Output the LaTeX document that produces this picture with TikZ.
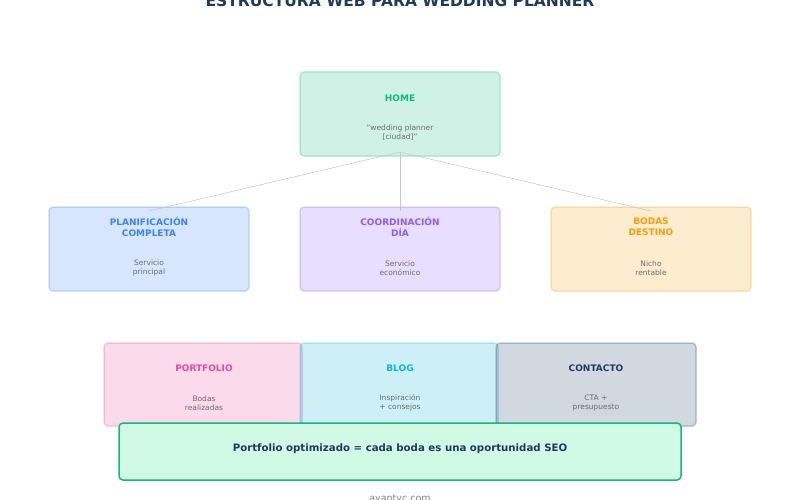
\documentclass[tikz,border=0pt]{standalone}
\usepackage{fontspec}
\setmainfont{DejaVu Sans}
\begin{document}
\begin{tikzpicture}[x=1pt,y=-1pt,
  box/.style={draw=#1,draw opacity=0.25,fill=#1,fill opacity=0.2,line width=1.5pt,rounded corners=4pt},
  ttl/.style={text=#1,font=\fontsize{9}{11}\selectfont\bfseries,align=center},
  sub/.style={text=gray!85!black,font=\fontsize{7.5}{9}\selectfont,align=center},
  link/.style={draw=gray!45,line width=0.5pt}]
\definecolor{cgreen}{HTML}{10B981}
\definecolor{cblue}{HTML}{3B82F6}
\definecolor{cpurple}{HTML}{8B5CF6}
\definecolor{corange}{HTML}{F59E0B}
\definecolor{cpink}{HTML}{EC4899}
\definecolor{ccyan}{HTML}{06B6D4}
\definecolor{cnavy}{HTML}{1E3A5F}
\useasboundingbox (0,0) rectangle (800,500);
\node[font=\fontsize{15.5}{18}\selectfont\bfseries,text=cnavy] (title) at (400,1) {ESTRUCTURA WEB PARA WEDDING PLANNER};
\path[box=cgreen] (300,72) rectangle (500,156);
\path[box=cblue] (49,207) rectangle (249,291);
\path[box=cpurple] (300,207) rectangle (500,291);
\path[box=corange] (551,207) rectangle (751,291);
\path[box=cpink] (104,343) rectangle (302,426);
\path[box=ccyan] (300,343) rectangle (498,426);
\path[box=cnavy] (496,343) rectangle (696,426);
\coordinate (hb) at (400,152);
\coordinate (p1) at (149,211);
\coordinate (p2) at (400,211);
\coordinate (p3) at (651,211);
\draw[link] (hb) -- (p1); \draw[link] (hb) -- (p2); \draw[link] (hb) -- (p3);
\node[ttl=cgreen] (home) at (400,98) {HOME};
\node[sub] (homes) at (400,133) {"wedding planner\\{}[ciudad]"};
\node[ttl=cblue] (plan) at (149,227) {PLANIFICACIÓN\\COMPLETA};
\node[sub] (plans) at (149,268) {Servicio\\principal};
\node[ttl=cpurple] (coord) at (400,227) {COORDINACIÓN\\DÍA};
\node[sub] (coords) at (400,268) {Servicio\\económico};
\node[ttl=corange] (bod) at (651,227) {BODAS\\DESTINO};
\node[sub] (bods) at (651,268) {Nicho\\rentable};
\node[ttl=cpink] (port) at (204,368) {PORTFOLIO};
\node[sub] (ports) at (204,403) {Bodas\\realizadas};
\node[ttl=ccyan] (blog) at (400,368) {BLOG};
\node[sub] (blogs) at (400,403) {Inspiración\\+ consejos};
\node[ttl=cnavy] (cont) at (596,368) {CONTACTO};
\node[sub] (conts) at (596,403) {CTA +\\presupuesto};
\draw[draw=cgreen,line width=1.5pt,fill={rgb,255:red,209;green,250;blue,229},rounded corners=4pt] (119,423) rectangle (681,480);
\node[ttl=cnavy,font=\fontsize{10.2}{12}\selectfont\bfseries] (note) at (400,449) {Portfolio optimizado = cada boda es una oportunidad SEO};
\node[text=gray,font=\fontsize{9.5}{11}\selectfont] (foot) at (400,499) {avantyc.com};
\end{tikzpicture}
\end{document}
